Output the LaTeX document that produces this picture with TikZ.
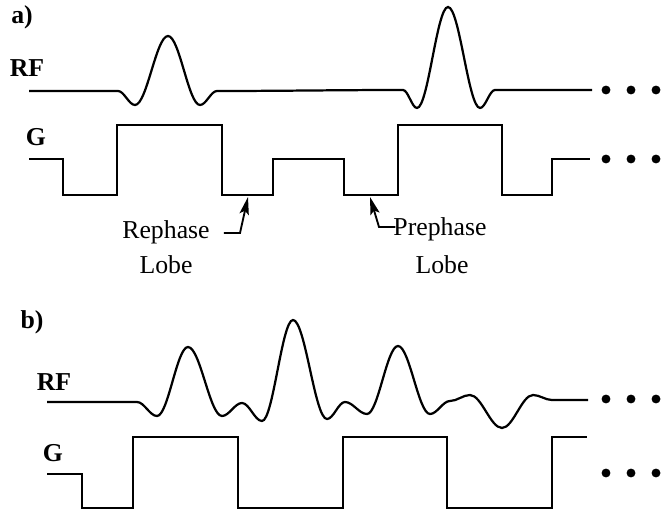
\documentclass[tikz,border=0pt]{standalone}
\usepackage{fontspec}
\setmainfont{Liberation Serif}
\usetikzlibrary{arrows.meta}

\begin{document}
\begin{tikzpicture}[x=0.03cm, y=-0.03cm,
		every node/.style={font=\fontsize{22}{26}\selectfont},
		lbl/.style={font=\fontsize{22}{26}\selectfont\bfseries},
		wave/.style={line width=1.9pt},
		lobe/.style={line width=1.6pt, -{Stealth[length=15pt,width=8pt,inset=3pt]}}]
	\useasboundingbox (0,0) rectangle (664,512);
	% a) single pulses
	\node[lbl] (la) at (22,17) {a)};
	\node[lbl] (rfa) at (27,68) {RF};
	\node[lbl] (ga) at (36,137) {G};
	\draw[wave] (29,91) \foreach \x/\y [remember=\x as \lx (initially 29), remember=\y as \ly (initially 91)]
		in {118/91, 135/105, 168/36, 200/105, 217/91, 403/90, 417/108, 448/7, 480/108, 495/90, 592/90}
		{.. controls ({\lx+0.36*(\x-\lx)},\ly) and ({\x-0.36*(\x-\lx)},\y) .. (\x,\y)};
	\draw[wave] (29,159) -| (63,195) -| (117,125) -| (222,195) -| (273,159) -| (344,195)
		-| (398,125) -| (502,195) -| (552,159) -- (590,159);
	\fill \foreach \d in {606,631,656}{(\d,90) circle[radius=3.8pt] (\d,159) circle[radius=3.8pt]};
	\node (reph) at (166,232) {Rephase};
	\node (rlobe) at (166,265) {Lobe};
	\node (preph) at (440,229) {Prephase};
	\node (plobe) at (442,265) {Lobe};
	\coordinate (rbend) at (240,233);
	\coordinate (rtip) at (248,197);
	\coordinate (pbend) at (379,227);
	\coordinate (ptip) at (370,197);
	\draw[lobe] (reph.east) ++(10,1) -- (rbend) -- (rtip);
	\draw[lobe] (preph.west) ++(6,-2) -- (pbend) -- (ptip);
	% b) pulse train
	\node[lbl] (lb) at (32,322) {b)};
	\node[lbl] (rfb) at (54,382) {RF};
	\node[lbl] (gb) at (53,453) {G};
	\draw[wave] (47,402) \foreach \x/\y [remember=\x as \lx (initially 47), remember=\y as \ly (initially 402)]
		in {137/402, 157/416, 188/347, 222/416, 242/403, 262/421, 293/320, 327/419, 345/402, 367/414,
			398/346, 430/414, 450/401, 470/395, 502/428, 533/395, 552/400, 588/400}
		{.. controls ({\lx+0.36*(\x-\lx)},\ly) and ({\x-0.36*(\x-\lx)},\y) .. (\x,\y)};
	\draw[wave] (47,474) -| (82,508) -| (133,437) -| (238,508) -| (343,437) -| (447,508)
		-| (552,437) -- (587,437);
	\fill \foreach \d in {606,631,656}{(\d,399) circle[radius=3.8pt] (\d,473) circle[radius=3.8pt]};
\end{tikzpicture}
\end{document}
